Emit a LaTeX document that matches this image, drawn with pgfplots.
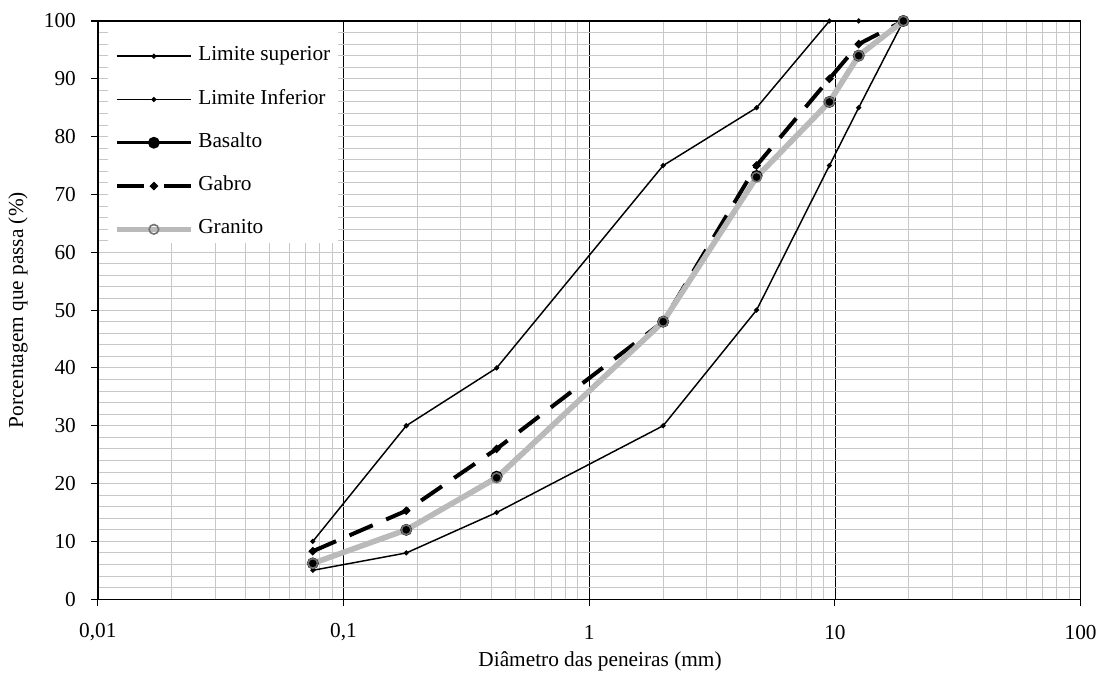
\documentclass[border=0pt]{standalone}
\usepackage{fontspec}
\setmainfont{Liberation Serif}
\usepackage{pgfplots}
\pgfplotsset{compat=1.18}
\newcommand\ff{\fontsize{16}{19}\selectfont}
\pgfplotsset{
  gabro legend/.style={
    legend image code/.code={
      \draw[##1, dash pattern=on 20pt off 15.5pt, mark repeat=2, mark phase=2]
      plot coordinates {(0pt,0pt)(27.75pt,0pt)(55.5pt,0pt)};}},
}

\begin{document}
\begin{tikzpicture}
\path (-73.5pt,-53.25pt) rectangle (752.25pt,450pt);
\begin{axis}[
  at={(0,0)}, anchor=south west,
  scale only axis, width=738pt, height=434.25pt,
  xmode=log, log basis x=10,
  xmin=0.01, xmax=100, ymin=0, ymax=100,
  xtick={0.01,0.1,1,10,100},
  xticklabels={{0,01},{0,1},1,10,100},
  minor xtick={0.02,0.03,0.04,0.05,0.06,0.07,0.08,0.09,
    0.2,0.3,0.4,0.5,0.6,0.7,0.8,0.9,2,3,4,5,6,7,8,9,
    20,30,40,50,60,70,80,90},
  ytick={0,10,...,100},
  minor y tick num=4,
  xmajorgrids, xminorgrids, ymajorgrids, yminorgrids,
  major x grid style={black, line width=0.6pt},
  minor x grid style={black!22, line width=0.75pt},
  major y grid style={black!22, line width=0.75pt},
  minor y grid style={black!22, line width=0.75pt},
  tick align=outside, xtick pos=bottom, ytick pos=left,
  major tick length=5pt, minor tick length=0pt,
  tick style={black, line width=0.8pt},
  axis line style={black, line width=1pt},
  /pgf/number format/assume math mode=true,
  tick label style={font=\ff},
  xticklabel style={anchor=center, yshift=-19.75pt},
  yticklabel style={anchor=east, xshift=-8pt},
  xlabel={Diâmetro das peneiras (mm)},
  ylabel={Porcentagem que passa (\%)},
  label style={font=\ff},
  xlabel style={at={(axis description cs:0.511,-0.108)}, anchor=center},
  ylabel style={at={(axis description cs:-0.0813,0.5)}, anchor=center},
  legend style={draw=none, fill=none, inner sep=0pt,
    at={(axis description cs:0.0163,0.9568)}, anchor=north west,
    font=\ff, row sep=17.5pt, column sep=3.5pt,
    nodes={inner sep=0pt, text height=11pt, text depth=4pt, anchor=west}},
  legend cell align=left,
  legend image code/.code={
    \draw[mark repeat=2,mark phase=2,#1]
    plot coordinates {(0pt,0pt)(27.75pt,0pt)(55.5pt,0pt)};},
]
\fill[white] (axis description cs:0.0102,0.9983) rectangle (axis description cs:0.2439,0.6166);

\addplot[black, line width=1.1pt, mark=*, mark size=1.3pt]
coordinates {(0.075,10) (0.18,30) (0.42,40) (2,75) (4.8,85) (9.5,100) (12.5,100) (19,100)};
\addlegendentry{Limite superior}

\addplot[black, line width=1.1pt, mark=*, mark size=1.3pt]
coordinates {(0.075,5) (0.18,8) (0.42,15) (2,30) (4.8,50) (9.5,75) (12.5,85) (19,100)};
\addlegendentry{Limite Inferior}

\addplot[black, line width=2.4pt, mark=*, mark size=3.2pt]
coordinates {(0.075,6.2) (0.18,12) (0.42,21.2) (2,48) (4.8,73.2) (9.5,86) (12.5,94) (19,100)};
\addlegendentry{Basalto}

\addplot[black, line width=3pt, dash pattern=on 19pt off 11pt, mark=*, mark size=1.2pt,
  mark options={solid}, gabro legend]
coordinates {(0.075,8.3) (0.18,15.3) (0.42,26) (2,48) (4.8,75) (9.5,90) (12.5,96) (19,100)};
\addlegendentry{Gabro}

\addplot[black!27, line width=4.2pt, mark=o, mark size=3.6pt,
  mark options={draw=black!55, line width=1.2pt}]
coordinates {(0.075,6.2) (0.18,12) (0.42,21) (2,48) (4.8,73) (9.5,86) (12.5,94) (19,100)};
\addlegendentry{Granito}
\end{axis}
\end{tikzpicture}
\end{document}
